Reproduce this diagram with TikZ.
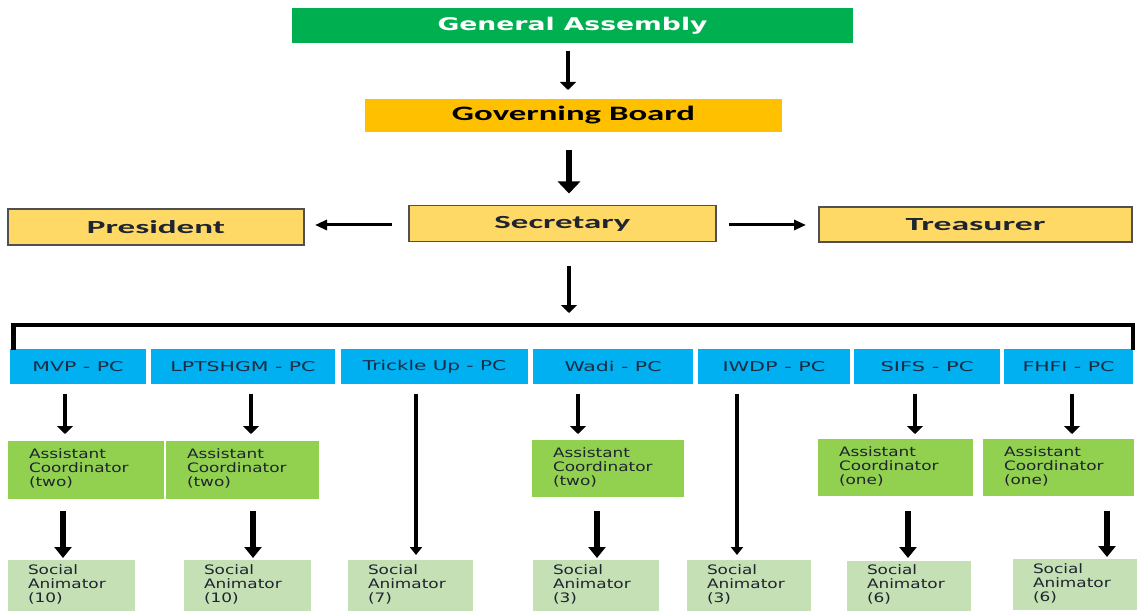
\documentclass[tikz,border=0pt]{standalone}
\usepackage{graphicx}
\usepackage{fontspec}
\setmainfont{DejaVu Sans}
\newfontfamily\hdfont{Carlito}
\usetikzlibrary{arrows.meta}
\definecolor{gagreen}{HTML}{00B050}
\definecolor{gbor}{HTML}{FFC000}
\definecolor{offgold}{HTML}{FFD966}
\definecolor{pcblue}{HTML}{00B0F0}
\definecolor{acgreen}{HTML}{92D050}
\definecolor{sagreen}{HTML}{C5E0B4}
\definecolor{txt}{HTML}{1E2430}
\definecolor{pctxt}{HTML}{1C2C44}
\definecolor{bordergray}{HTML}{505050}
\newcommand\fw[2]{\resizebox{#1pt}{\height}{#2}}
\newcommand\stk[3]{\scalebox{1.3}[1]{\begin{tabular}{@{}l@{}}#1\\#2\\#3\end{tabular}}}
\begin{document}
\begin{tikzpicture}[x=1pt,y=-1pt,
  box/.style={inner sep=0pt,outer sep=0pt,draw=none,text=txt},
  hdbox/.style={box,fill=offgold,draw=bordergray,line width=1.2pt,
    font=\hdfont\bfseries\fontsize{18.5}{18.5}\selectfont},
  pcbox/.style={box,fill=pcblue,minimum height=35pt,text=pctxt,
    font=\fontsize{13.5}{13.5}\selectfont},
  acbox/.style={box,fill=acgreen,inner xsep=21pt,align=left,
    font=\fontsize{13}{14}\selectfont},
  sabox/.style={box,fill=sagreen,minimum height=51pt,inner xsep=20pt,align=left,
    font=\fontsize{13}{13.5}\selectfont},
  thinarr/.style={line width=3.5pt,-{Triangle[width=16pt,length=8pt]}},
  thickarr/.style={line width=6pt,-{Triangle[width=22pt,length=12pt]}},
  harr/.style={line width=3pt,-{Triangle[width=10pt,length=12pt]}},
  saarr/.style={line width=6pt,-{Triangle[width=17pt,length=11pt]}},
  longarr/.style={line width=3.5pt,-{Triangle[width=12pt,length=8pt]}},
  brk/.style={line width=4.5pt,line join=miter}
]
\useasboundingbox[fill=white] (0,0) rectangle (1137,612);

% top levels
\node[box,fill=gagreen,minimum width=561pt,minimum height=35pt,text=white,
  font=\bfseries\fontsize{17.5}{17.5}\selectfont] (ga) at (572.5,25.5) {\fw{270}{General Assembly}};
\node[box,fill=gbor,minimum width=417pt,minimum height=33pt,text=black,
  font=\hdfont\bfseries\fontsize{20.5}{20.5}\selectfont] (gb) at (573.5,115.5) {\fw{243}{Governing Board}};

\node[hdbox,minimum width=296pt,minimum height=36pt] (pres) at (156,227) {\fw{138}{President}};
\node[hdbox,minimum width=307pt,minimum height=36pt] (sec) at (562.5,223.5) {\fw{136}{Secretary}};
\node[hdbox,minimum width=313pt,minimum height=35pt] (treas) at (975.5,224.5) {\fw{140}{Treasurer}};

% bracket
\coordinate (brk) at (569,325);
\coordinate (bl) at (13.5,350);
\coordinate (br) at (1133,350);

% project coordinators
\node[pcbox,minimum width=136pt] (mvp) at (78,366.5) {\fw{91}{MVP - PC}};
\node[pcbox,minimum width=184pt] (lpt) at (243,366.5) {\fw{145}{LPTSHGM - PC}};
\node[pcbox,minimum width=187pt] (tri) at (434.5,366.5) {\fw{143}{Trickle Up - PC}};
\node[pcbox,minimum width=160pt] (wadi) at (613,366.5) {\fw{97}{Wadi - PC}};
\node[pcbox,minimum width=152pt] (iwdp) at (774,366.5) {\fw{103}{IWDP - PC}};
\node[pcbox,minimum width=146pt] (sifs) at (927,366.5) {\fw{93}{SIFS - PC}};
\node[pcbox,minimum width=129pt] (fhfi) at (1068.5,366.5) {\fw{92}{FHFI - PC}};

% assistant coordinators
\node[acbox,text width=114pt,minimum height=58pt] (ac1) at (86,470) {\stk{Assistant}{Coordinator}{(two)}};
\node[acbox,text width=111pt,minimum height=58pt] (ac2) at (242.5,470) {\stk{Assistant}{Coordinator}{(two)}};
\node[acbox,text width=110pt,minimum height=57pt] (ac3) at (608,468.5) {\stk{Assistant}{Coordinator}{(two)}};
\node[acbox,text width=113pt,minimum height=57pt] (ac4) at (895.5,467.5) {\stk{Assistant}{Coordinator}{(one)}};
\node[acbox,text width=109pt,minimum height=57pt] (ac5) at (1058.5,467.5) {\stk{Assistant}{Coordinator}{(one)}};

% social animators
\node[sabox,text width=87pt] (sa1) at (71.5,585.5) {\stk{Social}{Animator}{(10)}};
\node[sabox,text width=87pt] (sa2) at (247.5,585.5) {\stk{Social}{Animator}{(10)}};
\node[sabox,text width=85pt] (sa3) at (410.5,585.5) {\stk{Social}{Animator}{(7)}};
\node[sabox,text width=86pt] (sa4) at (596,585.5) {\stk{Social}{Animator}{(3)}};
\node[sabox,text width=84pt] (sa5) at (749,585.5) {\stk{Social}{Animator}{(3)}};
\node[sabox,text width=84pt,minimum height=50pt] (sa6) at (909,586) {\stk{Social}{Animator}{(6)}};
\node[sabox,text width=84pt] (sa7) at (1075,584.5) {\stk{Social}{Animator}{(6)}};

% connectors
\draw[thinarr,shorten <=8pt,shorten >=9pt] (ga.south -| 568,0) -- (gb.north -| 568,0);
\draw[thickarr,shorten <=18pt,shorten >=12pt] (gb.south -| 569,0) -- (sec.north -| 569,0);
\draw[harr,shorten <=17pt,shorten >=11pt] (sec.west |- 0,225) -- (pres.east |- 0,225);
\draw[harr,shorten <=13pt,shorten >=13pt] (sec.east |- 0,225) -- (treas.west |- 0,225);
\draw[thinarr,shorten <=25pt,shorten >=12pt] (sec.south -| 569,0) -- (brk);
\draw[brk] (bl) |- (brk) -| (br);

\draw[thinarr,shorten <=10pt,shorten >=7pt] (mvp.south -| 65,0) -- (ac1.north -| 65,0);
\draw[thinarr,shorten <=10pt,shorten >=7pt] (lpt.south -| 251,0) -- (ac2.north -| 251,0);
\draw[thinarr,shorten <=10pt,shorten >=6pt] (wadi.south -| 578,0) -- (ac3.north -| 578,0);
\draw[thinarr,shorten <=10pt,shorten >=5pt] (sifs.south -| 915,0) -- (ac4.north -| 915,0);
\draw[thinarr,shorten <=10pt,shorten >=5pt] (fhfi.south -| 1072,0) -- (ac5.north -| 1072,0);

\draw[saarr,shorten <=12pt,shorten >=2pt] (ac1.south -| 63,0) -- (sa1.north -| 63,0);
\draw[saarr,shorten <=12pt,shorten >=2pt] (ac2.south -| 253,0) -- (sa2.north -| 253,0);
\draw[saarr,shorten <=14pt,shorten >=2pt] (ac3.south -| 597,0) -- (sa4.north -| 597,0);
\draw[saarr,shorten <=15pt,shorten >=3pt] (ac4.south -| 908,0) -- (sa6.north -| 908,0);
\draw[saarr,shorten <=15pt,shorten >=2pt] (ac5.south -| 1107,0) -- (sa7.north -| 1107,0);

\draw[longarr,shorten <=10pt,shorten >=5pt] (tri.south -| 416,0) -- (sa3.north -| 416,0);
\draw[longarr,shorten <=10pt,shorten >=5pt] (iwdp.south -| 737,0) -- (sa5.north -| 737,0);
\end{tikzpicture}
\end{document}
